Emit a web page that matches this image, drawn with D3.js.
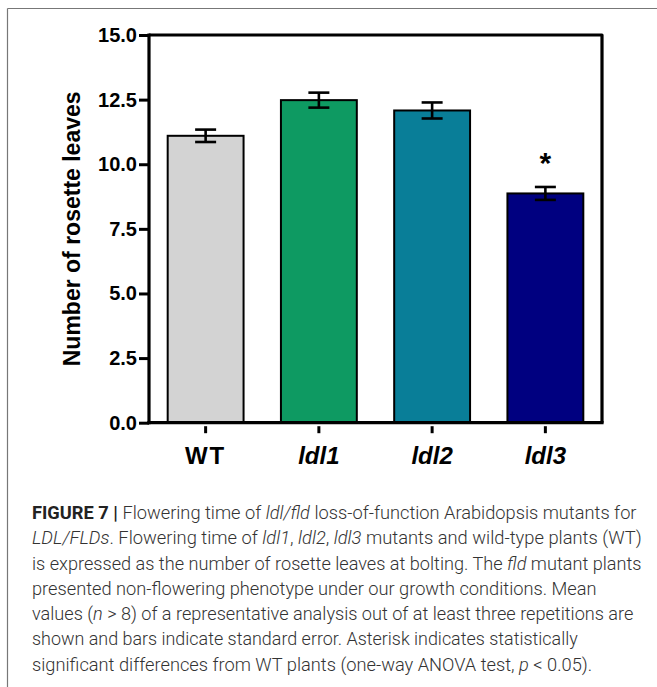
<!DOCTYPE html>
<html>
<head>
<meta charset="utf-8">
<script src="https://cdn.jsdelivr.net/npm/d3@7/dist/d3.min.js"></script>
<style>
  html, body { margin: 0; padding: 0; background: #fff; }
  svg { display: block; }
</style>
</head>
<body>
<svg id="chart" width="657" height="687"></svg>
<script>
const categories = ["WT", "ldl1", "ldl2", "ldl3"];
const values = [11.10, 12.48, 12.08, 8.87];
const errors = [0.24, 0.29, 0.31, 0.25];
const barColors = ["#d3d3d3", "#0e9a62", "#097e98", "#000080"];
const significant = [false, false, false, true];
const yTicks = [0, 2.5, 5, 7.5, 10, 12.5, 15];
const yTitle = "Number of rosette leaves";
const captionLines = [
  [["b", "FIGURE 7 | "], ["n", "Flowering time of "], ["i", "ldl/fld"], ["n", " loss-of-function Arabidopsis mutants for"]],
  [["i", "LDL/FLDs"], ["n", ". Flowering time of "], ["i", "ldl1"], ["n", ", "], ["i", "ldl2"], ["n", ", "], ["i", "ldl3"], ["n", " mutants and wild-type plants (WT)"]],
  [["n", "is expressed as the number of rosette leaves at bolting. The "], ["i", "fld"], ["n", " mutant plants"]],
  [["n", "presented non-flowering phenotype under our growth conditions. Mean"]],
  [["n", "values ("], ["i", "n"], ["n", " > 8) of a representative analysis out of at least three repetitions are"]],
  [["n", "shown and bars indicate standard error. Asterisk indicates statistically"]],
  [["n", "significant differences from WT plants (one-way ANOVA test, "], ["i", "p"], ["n", " < 0.05)."]]
];
const captionRightEdges = [637, 642, 642, 597, 634, 578, 593];

(function () {
const svg = d3.select("#chart");

// outer frame (top and left edges only)
svg.append("line").attr("x1", 7.5).attr("x2", 657).attr("y1", 8.5).attr("y2", 8.5)
  .attr("stroke", "#777").attr("stroke-width", 1.2);
svg.append("line").attr("x1", 7.5).attr("x2", 7.5).attr("y1", 8.5).attr("y2", 687)
  .attr("stroke", "#777").attr("stroke-width", 1.2);

const pL = 149, pR = 602, pT = 35, pB = 422.7;
const x = d3.scaleBand().domain(categories).range([pL, pR]).paddingInner(0.33).paddingOuter(0.165);
const y = d3.scaleLinear().domain([0, 15]).range([pB, pT]);

const data = categories.map((c, i) => ({ c, v: values[i], e: errors[i], col: barColors[i], sig: significant[i] }));

// bars
svg.append("g").selectAll("rect").data(data).join("rect")
  .attr("x", d => x(d.c))
  .attr("y", d => y(d.v))
  .attr("width", x.bandwidth())
  .attr("height", d => y(0) - y(d.v))
  .attr("fill", d => d.col)
  .attr("stroke", "#000")
  .attr("stroke-width", 2);

// error bars
const capW = 21;
const eg = svg.append("g").attr("stroke", "#000").attr("stroke-width", 2.6);
data.forEach(d => {
  const cx = x(d.c) + x.bandwidth() / 2;
  eg.append("line").attr("x1", cx).attr("x2", cx).attr("y1", y(d.v + d.e)).attr("y2", y(d.v - d.e));
  eg.append("line").attr("x1", cx - capW / 2).attr("x2", cx + capW / 2).attr("y1", y(d.v + d.e)).attr("y2", y(d.v + d.e));
  eg.append("line").attr("x1", cx - capW / 2).attr("x2", cx + capW / 2).attr("y1", y(d.v - d.e)).attr("y2", y(d.v - d.e));
});

// asterisk
svg.append("g").selectAll("text").data(data.filter(d => d.sig)).join("text")
  .attr("x", d => x(d.c) + x.bandwidth() / 2)
  .attr("y", d => y(d.v + d.e) - 14)
  .attr("text-anchor", "middle")
  .attr("font-family", "Liberation Sans, Arial, sans-serif")
  .attr("font-weight", "bold")
  .attr("font-size", 30)
  .text("*");

// frame box (top, right)
svg.append("path")
  .attr("d", `M${pL},${pT}H${pR}V${pB}`)
  .attr("fill", "none").attr("stroke", "#000").attr("stroke-width", 3.2)
  .attr("stroke-linejoin", "round");

// y axis
const yAxis = d3.axisLeft(y).tickValues(yTicks).tickFormat(d3.format(".1f")).tickSize(10).tickPadding(2);
const yg = svg.append("g").attr("transform", `translate(${pL},0)`).call(yAxis);
yg.select(".domain").remove();
yg.selectAll(".tick line").attr("stroke", "#000").attr("stroke-width", 3);
yg.selectAll(".tick text")
  .attr("font-family", "Liberation Sans, Arial, sans-serif")
  .attr("font-weight", "bold").attr("font-size", 20).attr("fill", "#000");
svg.append("line").attr("x1", pL).attr("x2", pL).attr("y1", pT - 1.6).attr("y2", pB + 1.6)
  .attr("stroke", "#000").attr("stroke-width", 3.2);

// x axis
svg.append("line").attr("x1", pL - 1.6).attr("x2", pR + 1.6).attr("y1", pB).attr("y2", pB)
  .attr("stroke", "#000").attr("stroke-width", 3.2);
const xAxis = d3.axisBottom(x).tickSize(7).tickPadding(14);
const xg = svg.append("g").attr("transform", `translate(0,${pB + 3.5})`).call(xAxis);
xg.select(".domain").remove();
xg.selectAll(".tick line").attr("stroke", "#000").attr("stroke-width", 3);
xg.selectAll(".tick text")
  .attr("font-family", "Liberation Sans, Arial, sans-serif")
  .attr("font-weight", "bold").attr("font-size", 24).attr("fill", "#000")
  .attr("font-style", d => d === "WT" ? "normal" : "italic")
  .attr("letter-spacing", d => d === "WT" ? 2 : 0);

// y title
svg.append("text")
  .attr("transform", `translate(80,${(pT + pB) / 2}) rotate(-90)`)
  .attr("text-anchor", "middle")
  .attr("font-family", "Liberation Sans, Arial, sans-serif")
  .attr("font-weight", "bold").attr("font-size", 23)
  .text(yTitle);

// caption
const capX = 32, capY0 = 519, capDy = 25.3;
captionLines.forEach((line, i) => {
  const g = svg.append("g");
  const t = g.append("text")
    .attr("x", capX).attr("y", capY0 + i * capDy)
    .attr("font-family", "Roboto, Liberation Sans, sans-serif")
    .attr("font-size", 18).attr("font-weight", 300).attr("fill", "#333");
  line.forEach(([k, s]) => {
    const ts = t.append("tspan").text(s);
    if (k === "b") ts.attr("font-weight", 700).attr("fill", "#222");
    if (k === "i") ts.attr("font-style", "italic");
  });
  const w = t.node().getComputedTextLength();
  const sx = (captionRightEdges[i] - capX) / w;
  g.attr("transform", `translate(${capX},0) scale(${sx},1) translate(${-capX},0)`);
});
})();
</script>
</body>
</html>
